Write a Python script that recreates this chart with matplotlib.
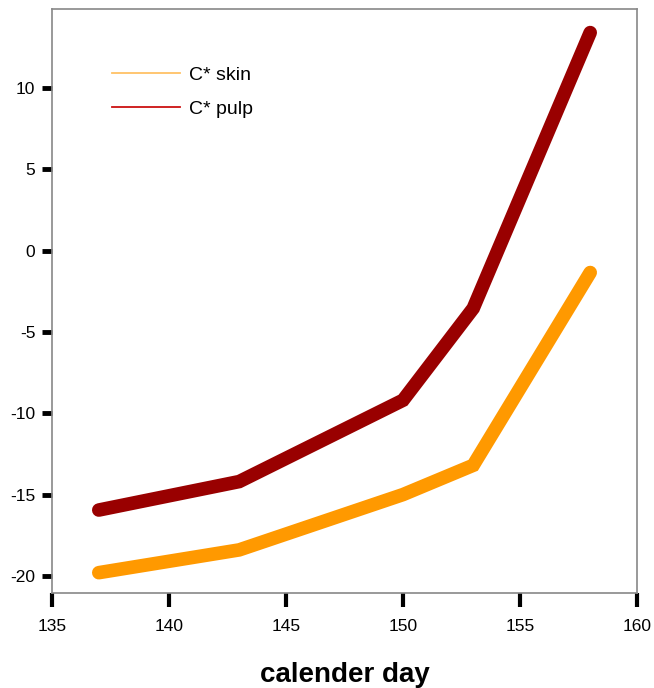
import matplotlib
matplotlib.use('Agg')
import matplotlib.pyplot as plt
from matplotlib.lines import Line2D

# calendar days and colour values
days = [137, 143, 150, 153, 158]
skin = [-19.8, -18.4, -15.0, -13.2, -1.35]
pulp = [-15.95, -14.2, -9.2, -3.55, 13.4]

x_ticks = [135, 140, 145, 150, 155, 160]
y_ticks = [-20, -15, -10, -5, 0, 5, 10]

plt.rcParams['font.family'] = ['Liberation Sans', 'DejaVu Sans']
plt.rcParams['axes.unicode_minus'] = False

fig = plt.figure(figsize=(6.54, 6.88), dpi=100)
ax = fig.add_axes([52/654, 1 - 593/688, 585/654, 584/688])

ax.plot(days, skin, color='#ff9900', lw=9.8, solid_capstyle='round', solid_joinstyle='miter')
ax.plot(days, pulp, color='#990000', lw=9.8, solid_capstyle='round', solid_joinstyle='miter')

ax.set_xlim(135, 160)
ax.set_ylim(-21.05, 14.85)
ax.set_xticks(x_ticks)
ax.set_yticks(y_ticks)

for s in ax.spines.values():
    s.set_color('#888888')
    s.set_linewidth(1.2)

ax.tick_params(axis='y', direction='out', length=7, width=3.5, color='black',
               labelsize=12.5, pad=5)
ax.tick_params(axis='x', direction='out', length=10, width=3, color='black',
               labelsize=12.5, pad=9)

ax.set_xlabel('calender day', fontsize=20, fontweight='bold', labelpad=20)

handles = [Line2D([], [], color='#ffc266', lw=1.3),
           Line2D([], [], color='#cc1111', lw=1.3)]
ax.legend(handles, ['C* skin', 'C* pulp'], loc='upper left',
          bbox_to_anchor=(0.072, 0.932), frameon=False, fontsize=14,
          handlelength=3.5, handletextpad=0.5, labelspacing=0.85)

fig.savefig('out.png', dpi=100)
